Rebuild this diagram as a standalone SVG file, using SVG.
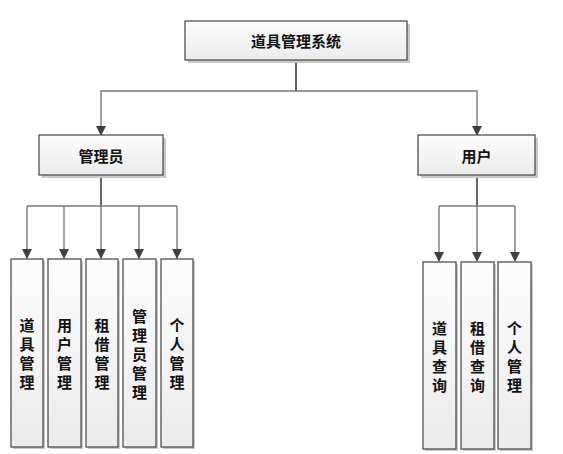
<svg xmlns="http://www.w3.org/2000/svg" width="563" height="454" viewBox="0 0 563 454">
<defs>
<linearGradient id="g" x1="0" y1="0" x2="0" y2="1">
<stop offset="0" stop-color="#fdfdfd"/>
<stop offset="1" stop-color="#ebebeb"/>
</linearGradient>
<marker id="ah" markerWidth="10" markerHeight="10" refX="9" refY="5" orient="auto" markerUnits="userSpaceOnUse">
<path d="M0,0 L10,5 L0,10 Z" fill="#404040"/>
</marker>
</defs>
<style>
.sh{fill:#c9c9c9}
.bx{fill:url(#g);stroke:#505050;stroke-width:1.3}
.t{font-family:"Noto Sans CJK SC","Noto Sans CJK TC",sans-serif;font-size:15px;font-weight:bold;fill:#111;text-anchor:middle;dominant-baseline:central}
.c{fill:none;stroke:#7a7a7a;stroke-width:1.4}
.ca{fill:none;stroke:#7a7a7a;stroke-width:1.4;marker-end:url(#ah)}
.tr{fill:none;stroke:#555;stroke-width:1.8}
</style>
<rect width="563" height="454" fill="#fff"/>
<g id="connectors">
<path class="tr" d="M296,60 V91"/>
<path class="ca" d="M296,91 H101 V135"/>
<path class="ca" d="M296,91 H477 V135"/>
<path class="tr" d="M101,175 V206"/>
<path class="c" d="M27,206 H177"/>
<path class="ca" d="M27,206 V258"/>
<path class="ca" d="M64,206 V258"/>
<path class="ca" d="M101,206 V258"/>
<path class="ca" d="M139,206 V258"/>
<path class="ca" d="M177,206 V258"/>
<path class="tr" d="M477,175 V206"/>
<path class="c" d="M439,206 H515"/>
<path class="ca" d="M439,206 V261"/>
<path class="ca" d="M477,206 V261"/>
<path class="ca" d="M515,206 V261"/>
</g>
<g id="root">
<rect class="sh" x="188" y="24" width="222" height="39"/>
<rect class="bx" x="185" y="21" width="222" height="39"/>
<text class="t" x="296" y="40.5">道具管理系统</text>
</g>
<g id="admin">
<rect class="sh" x="42" y="138" width="124" height="40"/>
<rect class="bx" x="39" y="135" width="124" height="40"/>
<text class="t" x="101" y="155" font-size="14">管理员</text>
</g>
<g id="user">
<rect class="sh" x="421" y="138" width="117" height="40"/>
<rect class="bx" x="418" y="135" width="117" height="40"/>
<text class="t" x="476.5" y="155" font-size="14">用户</text>
</g>
<g id="a1">
<rect class="sh" x="13" y="261" width="32" height="188"/>
<rect class="bx" x="11" y="259" width="32" height="188"/>
<text class="t" x="27"><tspan x="27" y="324">道</tspan><tspan x="27" y="343">具</tspan><tspan x="27" y="362">管</tspan><tspan x="27" y="381">理</tspan></text>
</g>
<g id="a2">
<rect class="sh" x="50" y="261" width="33" height="188"/>
<rect class="bx" x="48" y="259" width="33" height="188"/>
<text class="t"><tspan x="64.5" y="324">用</tspan><tspan x="64.5" y="343">户</tspan><tspan x="64.5" y="362">管</tspan><tspan x="64.5" y="381">理</tspan></text>
</g>
<g id="a3">
<rect class="sh" x="88" y="261" width="32" height="188"/>
<rect class="bx" x="86" y="259" width="32" height="188"/>
<text class="t"><tspan x="102" y="324">租</tspan><tspan x="102" y="343">借</tspan><tspan x="102" y="362">管</tspan><tspan x="102" y="381">理</tspan></text>
</g>
<g id="a4">
<rect class="sh" x="125" y="261" width="33" height="188"/>
<rect class="bx" x="123" y="259" width="33" height="188"/>
<text class="t"><tspan x="139.5" y="315">管</tspan><tspan x="139.5" y="334">理</tspan><tspan x="139.5" y="353">员</tspan><tspan x="139.5" y="372">管</tspan><tspan x="139.5" y="391">理</tspan></text>
</g>
<g id="a5">
<rect class="sh" x="163" y="261" width="32" height="188"/>
<rect class="bx" x="161" y="259" width="32" height="188"/>
<text class="t"><tspan x="177" y="324">个</tspan><tspan x="177" y="343">人</tspan><tspan x="177" y="362">管</tspan><tspan x="177" y="381">理</tspan></text>
</g>
<g id="u1">
<rect class="sh" x="425" y="264" width="33" height="187"/>
<rect class="bx" x="423" y="262" width="33" height="187"/>
<text class="t"><tspan x="439.5" y="327">道</tspan><tspan x="439.5" y="346">具</tspan><tspan x="439.5" y="365">查</tspan><tspan x="439.5" y="384">询</tspan></text>
</g>
<g id="u2">
<rect class="sh" x="463" y="264" width="33" height="187"/>
<rect class="bx" x="461" y="262" width="33" height="187"/>
<text class="t"><tspan x="477.5" y="327">租</tspan><tspan x="477.5" y="346">借</tspan><tspan x="477.5" y="365">查</tspan><tspan x="477.5" y="384">询</tspan></text>
</g>
<g id="u3">
<rect class="sh" x="500" y="264" width="33" height="187"/>
<rect class="bx" x="498" y="262" width="33" height="187"/>
<text class="t"><tspan x="514.5" y="327">个</tspan><tspan x="514.5" y="346">人</tspan><tspan x="514.5" y="365">管</tspan><tspan x="514.5" y="384">理</tspan></text>
</g>
</svg>
